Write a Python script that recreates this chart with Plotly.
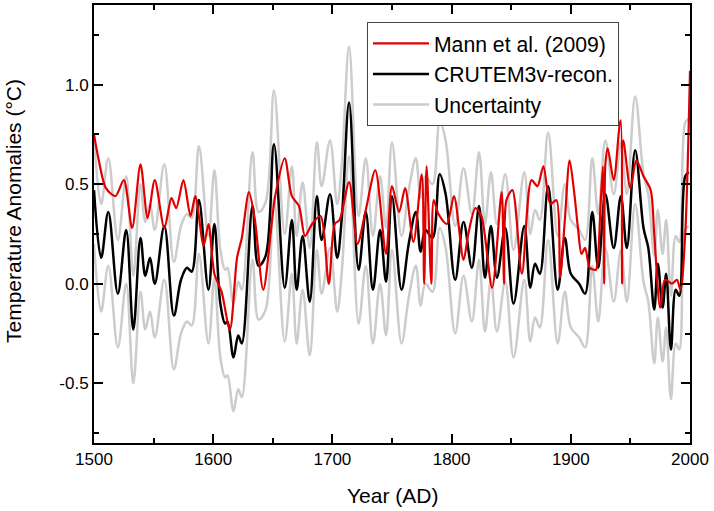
import plotly.graph_objects as go

# Mann et al. (2009)
mann_years = [1500,1504,1510,1518,1525,1532,1539,1545,1551,1559,1565,1569,1575,1581,1585,1592,1596,1601,1607,1614,
              1620,1624,1630,1635,1642,1652,1660,1666,1672,1677,1683,1690,1697,1702,1706,1714,1721,1728,1736,1745,
              1750,1756,1761,1768,1775,1777,1779,1783,1785,1789,1796,1802,1810,1814,1820,1825,1834,1842,1844,1846,
              1851,1859,1867,1872,1877,1883,1888,1891,1895,1899,1903,1906,1909,1912,1916,1921,1923,1925,1927,1928,
              1929,1931,1936,1941,1942,1943,1944,1950,1955,1961,1967,1970,1975,1979,1985,1989,1992,1996,2000]
mann_vals = [0.75,0.62,0.48,0.44,0.52,0.28,0.60,0.33,0.52,0.28,0.43,0.38,0.52,0.34,0.44,0.19,0.30,0.05,-0.04,-0.23,
             0.13,0.23,0.46,0.32,-0.03,0.44,0.63,0.44,0.39,0.24,0.30,0.34,0.00,0.30,0.32,0.51,0.20,0.37,0.57,0.15,
             0.49,0.36,0.48,0.21,0.55,0.00,0.59,0.00,0.42,0.35,0.30,0.44,0.12,0.25,0.38,0.34,-0.02,0.46,0.00,0.42,
             0.47,0.05,0.52,0.49,0.59,0.40,0.42,0.03,0.32,0.62,0.45,0.28,0.15,0.18,0.08,0.07,0.15,0.40,0.59,0.00,
             0.60,0.68,0.52,0.80,0.82,0.00,0.72,0.48,0.62,0.54,0.47,0.25,-0.12,0.02,0.00,0.02,-0.03,0.25,1.07]

# CRUTEM3v-recon. and uncertainty band
cru_years = [1500,1506,1512,1520,1527,1533,1539,1543,1547,1551,1559,1567,1573,1578,1582,1588,1596,1601,1606,1610,
             1612,1617,1621,1624,1633,1638,1644,1651,1660,1666,1670,1675,1681,1687,1691,1698,1704,1708,1714,1722,
             1728,1734,1740,1745,1750,1758,1764,1770,1774,1778,1784,1790,1795,1803,1810,1817,1823,1828,1833,1838,
             1845,1852,1861,1866,1870,1874,1881,1889,1895,1900,1907,1912,1918,1923,1929,1936,1942,1947,1954,1961,
             1965,1970,1973,1977,1980,1984,1988,1991,1996,1999]
cru_vals = [0.47,0.13,0.36,-0.05,0.27,-0.23,0.23,0.04,0.13,0.00,0.29,-0.16,0.02,0.08,0.06,0.42,-0.03,0.30,-0.10,-0.20,
            -0.19,-0.37,-0.26,-0.30,0.39,0.09,0.14,0.70,-0.02,0.32,-0.03,0.24,-0.09,0.44,0.22,0.45,0.13,0.34,0.91,0.07,
            0.36,-0.03,0.27,0.01,0.44,-0.03,0.20,0.36,0.16,0.27,0.23,0.55,0.45,0.02,0.31,0.08,0.39,0.03,0.29,0.03,
            0.28,-0.10,0.29,-0.02,0.10,0.05,0.49,-0.03,0.23,0.05,0.00,-0.05,0.36,0.08,0.45,0.18,0.44,0.18,0.67,0.28,
            0.18,-0.13,0.10,-0.12,0.05,-0.33,-0.03,-0.06,0.54,0.56]
unc_upper = [0.74,0.40,0.63,0.22,0.54,0.04,0.50,0.31,0.40,0.27,0.60,0.11,0.29,0.35,0.33,0.69,0.24,0.57,0.17,0.07,
             0.08,-0.10,0.01,-0.03,0.66,0.36,0.41,0.97,0.25,0.59,0.24,0.51,0.18,0.71,0.49,0.72,0.40,0.61,1.19,0.34,
             0.63,0.24,0.54,0.28,0.71,0.24,0.47,0.63,0.43,0.54,0.50,0.82,0.72,0.29,0.58,0.35,0.66,0.30,0.56,0.30,
             0.55,0.17,0.56,0.25,0.37,0.32,0.76,0.24,0.50,0.32,0.27,0.22,0.63,0.35,0.72,0.45,0.71,0.45,0.94,0.55,
             0.45,0.14,0.37,0.15,0.32,-0.06,0.24,0.21,0.81,0.83]
unc_lower = [0.20,-0.14,0.09,-0.32,0.00,-0.50,-0.04,-0.23,-0.14,-0.27,0.02,-0.43,-0.25,-0.19,-0.21,0.15,-0.30,0.03,-0.37,-0.47,
             -0.46,-0.64,-0.53,-0.57,0.12,-0.18,-0.13,0.43,-0.29,0.05,-0.30,-0.03,-0.36,0.17,-0.05,0.18,-0.14,0.07,0.64,-0.20,
             0.09,-0.30,0.00,-0.26,0.17,-0.30,-0.07,0.09,-0.11,0.00,-0.04,0.28,0.18,-0.25,0.04,-0.19,0.12,-0.24,0.02,-0.24,
             0.01,-0.37,0.02,-0.29,-0.17,-0.22,0.22,-0.30,-0.04,-0.22,-0.27,-0.32,0.09,-0.19,0.18,-0.09,0.17,-0.09,0.40,0.01,
             -0.09,-0.40,-0.17,-0.39,-0.22,-0.58,-0.30,-0.33,0.27,0.29]

x_tick_vals = [1500, 1600, 1700, 1800, 1900, 2000]
y_tick_vals = [-0.5, 0.0, 0.5, 1.0]
y_tick_text = ["-0.5", "0.0", "0.5", "1.0"]

RED = "#e00000"
GRAY = "#cccccc"
FONT = "Liberation Sans, Arial, sans-serif"

fig = go.Figure()
fig.add_trace(go.Scatter(x=cru_years, y=unc_upper, mode="lines", name="Uncertainty",
                         line=dict(color=GRAY, width=2.5, shape="spline", smoothing=1.0),
                         legendgroup="unc", legendrank=3))
fig.add_trace(go.Scatter(x=cru_years, y=unc_lower, mode="lines", name="Uncertainty",
                         line=dict(color=GRAY, width=2.5, shape="spline", smoothing=1.0),
                         legendgroup="unc", showlegend=False))
fig.add_trace(go.Scatter(x=cru_years, y=cru_vals, mode="lines", name="CRUTEM3v-recon.",
                         line=dict(color="black", width=2.5, shape="spline", smoothing=1.0),
                         legendrank=2))
fig.add_trace(go.Scatter(x=mann_years, y=mann_vals, mode="lines", name="Mann et al. (2009)",
                         line=dict(color=RED, width=2.2, shape="spline", smoothing=0.8),
                         legendrank=1))

axis_common = dict(
    showline=True, linecolor="black", linewidth=2, mirror="allticks",
    ticks="inside", ticklen=9, tickwidth=2, tickcolor="black",
    showgrid=False, zeroline=False, automargin=False,
    tickfont=dict(family=FONT, size=17, color="black"),
)

fig.update_xaxes(range=[1500, 2000], tickvals=x_tick_vals,
                 minor=dict(dtick=50, tick0=1500, ticks="inside", ticklen=5, tickwidth=2, tickcolor="black", showgrid=False),
                 **axis_common)
fig.update_yaxes(range=[-0.80, 1.40], tickvals=y_tick_vals, ticktext=y_tick_text,
                 minor=dict(dtick=0.25, tick0=0, ticks="inside", ticklen=5, tickwidth=2, tickcolor="black", showgrid=False),
                 **axis_common)

fig.add_annotation(text="Year (AD)", xref="paper", yref="paper", x=0.5, y=-0.119,
                   xanchor="center", yanchor="middle", showarrow=False,
                   font=dict(family=FONT, size=21, color="black"))
fig.add_annotation(text="Temperature Anomalies (°C)", xref="paper", yref="paper", x=-0.134, y=0.53,
                   xanchor="center", yanchor="middle", showarrow=False, textangle=-90,
                   font=dict(family=FONT, size=21, color="black"))

fig.update_layout(
    width=714, height=511,
    margin=dict(l=94, r=24, t=5, b=68, autoexpand=False),
    plot_bgcolor="white", paper_bgcolor="white",
    font=dict(family=FONT, color="black"),
    legend=dict(x=0.458, y=0.961, xanchor="left", yanchor="top",
                bgcolor="white", bordercolor="#444444", borderwidth=1,
                font=dict(family=FONT, size=21.2, color="black"),
                itemwidth=56, tracegroupgap=0),
    showlegend=True,
)

fig.write_html("out.html", config={"displayModeBar": False},
               post_script="document.body.style.margin='0px';document.body.style.padding='0px';document.body.style.overflow='hidden';")
